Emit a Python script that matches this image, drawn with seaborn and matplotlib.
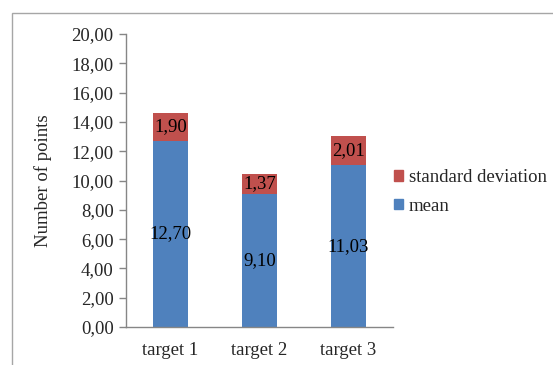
import matplotlib.pyplot as plt
import matplotlib.patches as mpatches
import matplotlib.ticker as mtick
import numpy as np
import pandas as pd
import seaborn as sns

targets = ["target 1", "target 2", "target 3"]
mean_vals = [12.70, 9.10, 11.03]
std_vals = [1.90, 1.37, 2.01]

col_mean = "#4F81BD"
col_std = "#C0504D"
col_axis = "#868686"
fs = 13.5

sns.set_theme(style="white")
plt.rcParams["font.family"] = ["Liberation Serif", "DejaVu Serif"]

df = pd.DataFrame({"target": targets, "mean": mean_vals, "std": std_vals})
df["total"] = df["mean"] + df["std"]

fig = plt.figure(figsize=(5.53, 3.65), dpi=100)
ax = fig.add_axes([126 / 553, 1 - 327 / 365, (393 - 126) / 553, (327 - 34) / 365])

# stacked: total in red, mean in blue on top of it
sns.barplot(data=df, x="target", y="total", color=col_std, saturation=1, width=0.4, linewidth=0, ax=ax)
sns.barplot(data=df, x="target", y="mean", color=col_mean, saturation=1, width=0.4, linewidth=0, ax=ax)

for i, (m, s) in enumerate(zip(mean_vals, std_vals)):
    ax.text(i, m / 2, f"{m:.2f}".replace(".", ","), ha="center", va="center", fontsize=fs, color="black")
    ax.text(i, m + s / 2, f"{s:.2f}".replace(".", ","), ha="center", va="center", fontsize=fs, color="black")

ax.set_xlim(-0.5, 2.5)
ax.set_ylim(0, 20)
ax.yaxis.set_major_locator(mtick.MultipleLocator(2))
ax.yaxis.set_major_formatter(mtick.FuncFormatter(lambda v, p: f"{v:.2f}".replace(".", ",")))
ax.set_xlabel("")
ax.set_ylabel("Number of points", fontsize=fs, labelpad=14)

# x ticks between categories
ax.set_xticks([0, 1, 2])
ax.set_xticklabels(targets)
ax.xaxis.set_minor_locator(mtick.FixedLocator([-0.5, 0.5, 1.5, 2.5]))
ax.tick_params(axis="x", which="major", length=0, labelsize=fs, pad=11)
ax.tick_params(axis="x", which="minor", length=5, color=col_axis, width=1, direction="out")
ax.tick_params(axis="y", length=5, color=col_axis, width=1, direction="out", labelsize=fs, pad=4, left=True)

for side in ("top", "right"):
    ax.spines[side].set_visible(False)
for side in ("left", "bottom"):
    ax.spines[side].set_color(col_axis)
    ax.spines[side].set_linewidth(1)

ax.legend(
    handles=[mpatches.Patch(color=col_std, label="standard deviation"),
             mpatches.Patch(color=col_mean, label="mean")],
    loc="center left", bbox_to_anchor=(394 / 553, 1 - 192 / 365), bbox_transform=fig.transFigure,
    frameon=False, fontsize=fs, handlelength=0.5, handleheight=0.5, handletextpad=0.3,
    labelspacing=0.6, borderaxespad=0, borderpad=0
)

# outer chart frame (partly cut off in the original)
fig.patches.append(mpatches.Rectangle((12 / 553, -0.1), 1.1, 1.1 - 13 / 365, transform=fig.transFigure,
                                      fill=False, edgecolor="#a6a6a6", linewidth=1.0, clip_on=False))

fig.savefig("out.png", dpi=100)
